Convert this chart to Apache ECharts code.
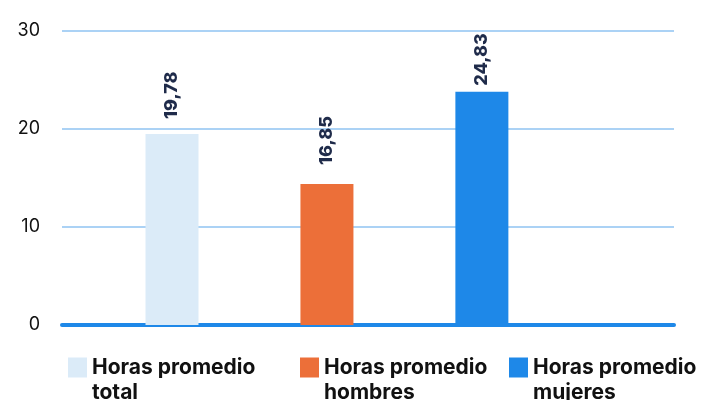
<!DOCTYPE html>
<html>
<head>
<meta charset="utf-8">
<script src="https://cdn.jsdelivr.net/npm/echarts@6/dist/echarts.min.js"></script>
<style>
  html, body { margin: 0; padding: 0; background: #fff; }
  #chart { width: 701px; height: 400px; }
</style>
</head>
<body>
<div id="chart"></div>
<script>
// series names (legend)
var seriesNames = ['Horas promedio\ntotal', 'Horas promedio\nhombres', 'Horas promedio\nmujeres'];
// bar heights as drawn in the picture
var barValues = [19.5, 14.4, 23.8];
// value labels printed above the bars
var barLabels = ['19,78', '16,85', '24,83'];
// x positions of the bars
var barPos = [1, 2, 3];
var yTicks = [0, 10, 20, 30];

var colors = ['#dbebf8', '#ec6f39', '#1e88e8'];
var labelGap = [15, 19, 6];
var legendLeft = [63, 295, 504];

var series = [];
var legends = [];
for (var i = 0; i < seriesNames.length; i++) {
    series.push({
        name: seriesNames[i],
        type: 'bar',
        barWidth: 53,
        barGap: '-100%',
        data: [[barPos[i], barValues[i]]],
        itemStyle: { color: colors[i] },
        label: {
            show: true,
            position: 'top',
            rotate: 90,
            align: 'left',
            verticalAlign: 'middle',
            distance: labelGap[i],
            formatter: barLabels[i],
            color: '#1f2b4a',
            fontFamily: 'Inter',
            fontWeight: 800,
            fontSize: 18
        }
    });
    legends.push({
        data: [seriesNames[i]],
        left: legendLeft[i],
        top: 325,
        icon: 'rect',
        itemWidth: 19,
        itemHeight: 20,
        itemGap: 0,
        selectedMode: false,
        // empty first line so that the first text line sits beside the icon
        formatter: function (name) { return '\n' + name; },
        textStyle: {
            color: '#111',
            fontFamily: 'Inter',
            fontWeight: 'bold',
            fontSize: 21,
            lineHeight: 25
        }
    });
}

var option = {
    animation: false,
    grid: { left: 62, right: 27, top: 31, bottom: 75 },
    legend: legends,
    xAxis: {
        type: 'value',
        min: 0.29,
        max: 4.24,
        axisLine: { show: true, onZero: true, lineStyle: { color: '#1e88e8', width: 4 } },
        axisTick: { show: false },
        axisLabel: { show: false },
        splitLine: { show: false }
    },
    yAxis: {
        type: 'value',
        min: yTicks[0],
        max: yTicks[yTicks.length - 1],
        interval: 10,
        axisLine: { show: false },
        axisTick: { show: false },
        axisLabel: {
            margin: 22,
            color: '#111',
            fontFamily: 'Inter',
            fontSize: 18
        },
        splitLine: { show: true, lineStyle: { color: '#8fc3f2', width: 1.5, type: 'solid' } }
    },
    series: series
};

var chart = echarts.init(document.getElementById('chart'));
chart.setOption(option);
</script>
</body>
</html>
